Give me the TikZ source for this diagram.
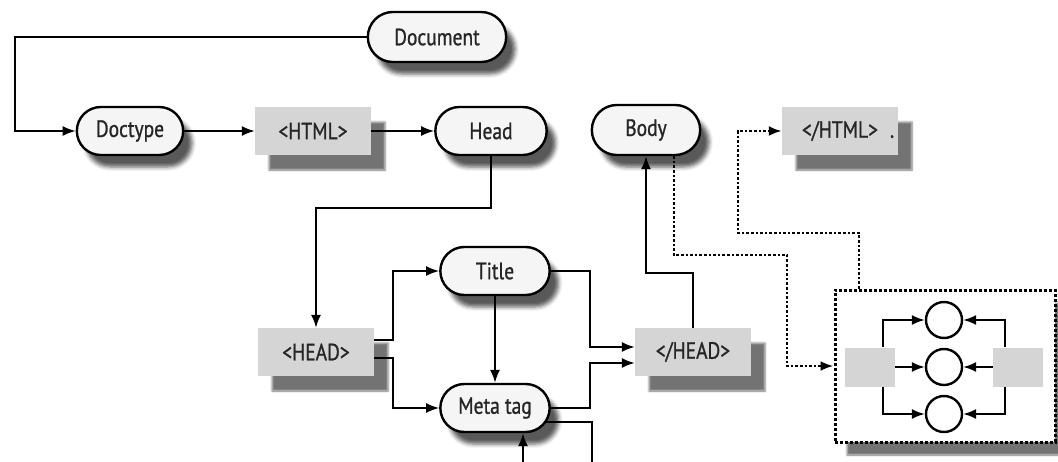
\documentclass[tikz,border=0pt]{standalone}
\usepackage{fontspec}
\setmainfont{PT Sans}[FakeStretch=0.83,FakeBold=1]
\usetikzlibrary{arrows.meta,shapes.misc,shadows.blur}

\begin{document}
\begin{tikzpicture}[x=1pt,y=-1pt,
    >={Latex[length=13pt,width=10pt]},
    lbl/.style={text=black!85,font=\fontsize{23.5}{26}\selectfont},
    pill/.style={lbl,rounded rectangle,draw=black,line width=2.4pt,fill=gray!8,
        minimum width=116pt,minimum height=48pt,
        blur shadow={shadow xshift=9pt,shadow yshift=-12pt,shadow blur radius=4pt,shadow opacity=65}},
    tag/.style={lbl,rectangle,fill=gray!33,minimum width=116pt,minimum height=48pt,
        blur shadow={shadow xshift=14pt,shadow yshift=-15pt,shadow blur radius=2pt,shadow opacity=55}},
    link/.style={->,line width=1.8pt},
    dotlink/.style={->,line width=2.6pt,dash pattern=on 2.6pt off 2pt},
    ring/.style={circle,draw=black,line width=2.4pt,fill=white,minimum size=36pt,inner sep=0pt},
    slot/.style={rectangle,fill=gray!33,minimum width=50pt,minimum height=39pt},
  ]
    \useasboundingbox (0,0) rectangle (1058,461);

    % nodes of the page tree
    \node (doc) at (437,37) [pill,minimum width=145pt,minimum height=50pt] {Document};
    \node (doctype) at (130,131) [pill,minimum width=113pt] {Doctype};
    \node (html) at (313,131) [tag] {<HTML>};
    \node (head) at (491,131) [pill,minimum width=118pt] {Head};
    \node (body) at (646,130) [pill,minimum width=115pt,minimum height=50pt] {Body};
    \node (endhtml) at (840,131) [tag] {</HTML>\rlap{\hspace{12pt}.}};
    \node (headtag) at (316,352) [tag] {<HEAD>};
    \node (title) at (495,271) [pill] {Title};
    \node (meta) at (495,408) [pill] {Meta tag};
    \node (endhead) at (693,352) [tag] {</HEAD>};

    % body block
    \node (box) at (945,366) [draw=black,line width=3pt,dash pattern=on 3pt off 2pt,fill=white,
        minimum width=220pt,minimum height=152pt,
        blur shadow={shadow xshift=12pt,shadow yshift=-13pt,shadow blur radius=2pt,shadow opacity=55}] {};
    \node (lslot) at (870,367) [slot] {};
    \node (rslot) at (1018,367) [slot] {};
    \foreach \i/\y in {1/320,2/367,3/414} \node (c\i) at (944,\y) [ring] {};

    \coordinate (metaout) at (592,470);
    \coordinate (metain) at (523,470);

    % connectors
    \draw[link] (doc.west) -- ++(-352,0) |- (doctype);
    \draw[link] (doctype) -- (html);
    \draw[link] (html) -- (head);
    \draw[link] (head.south) -- ++(0,52) -| (headtag);
    \draw[link] ([yshift=12pt]headtag.east) -- ++(19,0) |- (title);
    \draw[link] ([yshift=-6pt]headtag.east) -- ++(19,0) |- (meta);
    \draw[link] (title) -- (meta);
    \draw[link] (title.east) -- ++(39,0) |- ([yshift=5pt]endhead.west);
    \draw[link] (meta.east) -- ++(39,0) |- ([yshift=-11pt]endhead.west);
    \draw[line width=1.8pt] ([shift={(-5,14)}]meta.east) -| (metaout);
    \draw[link] (metain) -- (metain |- meta.south);
    \draw[link] (endhead.north) -- ++(0,-55) -| (body);

    \draw[dotlink] ([xshift=28pt]body.south) |- (787,255) |- (box);
    \draw[dotlink] ([xshift=-86pt]box.north) |- (738,233) |- (endhtml);

    \draw[link] ([xshift=13pt]lslot.north) |- (c1);
    \draw[link] (lslot) -- (c2);
    \draw[link] ([xshift=13pt]lslot.south) |- (c3);
    \draw[link] ([xshift=-13pt]rslot.north) |- (c1);
    \draw[link] (rslot) -- (c2);
    \draw[link] ([xshift=-13pt]rslot.south) |- (c3);
\end{tikzpicture}
\end{document}
